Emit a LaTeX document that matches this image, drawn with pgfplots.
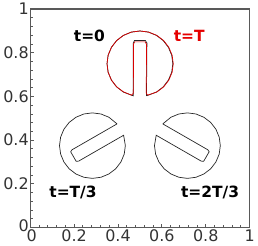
\documentclass[border=0pt]{standalone}
\usepackage{pgfplots}
\pgfplotsset{compat=1.18}
\usepackage{fontspec}
\setmainfont{DejaVu Sans}
\begin{document}
\begin{tikzpicture}
\begin{axis}[
  scale only axis, width=220pt, height=219pt,
  xmin=0, xmax=1, ymin=0, ymax=1,
  xtick={0,0.2,0.4,0.6,0.8,1}, ytick={0,0.2,0.4,0.6,0.8,1},
  xticklabels={\hspace{3pt}0,0.2,0.4,0.6,0.8,1}, yticklabels={\raisebox{4pt}{0},0.2,0.4,0.6,0.8,1},
  minor tick num=4,
  tick align=inside, xtick pos=left, ytick pos=left,
  major tick length=4pt, minor tick length=2.5pt,
  axis line style={draw=black!65, line width=1.3pt},
  every tick/.style={black!65, line width=0.8pt},
  tick label style={font=\fontsize{16}{16}\selectfont, text=black!80},
  xticklabel style={yshift=1pt},
  yticklabel style={xshift=2pt},
  clip=false,
]
% t=0 (black)
\addplot[black!85, line width=0.7pt] coordinates {
(0.53,0.603)(0.575,0.620)(0.6061,0.6439)(0.6299,0.675)(0.6449,0.7112)(0.65,0.75)(0.6449,0.7888)(0.6299,0.825)(0.6061,0.8561)(0.575,0.8799)(0.5388,0.8949)(0.5,0.9)(0.4612,0.8949)(0.425,0.8799)(0.3939,0.8561)(0.3701,0.825)(0.3551,0.7888)(0.35,0.75)(0.3551,0.7112)(0.3701,0.675)(0.3939,0.6439)(0.425,0.62)(0.47,0.603)(0.47,0.845)(0.475,0.856)(0.525,0.856)(0.532,0.845)(0.53,0.603)
};
% t=T (red)
\addplot[red!85!black, line width=0.7pt] coordinates {
(0.535,0.606)(0.578,0.621)(0.6081,0.6439)(0.6319,0.675)(0.6469,0.7112)(0.652,0.75)(0.6469,0.7888)(0.6319,0.825)(0.6081,0.8561)(0.577,0.8799)(0.5398,0.8949)(0.5,0.9)(0.4612,0.8949)(0.425,0.8799)(0.3939,0.8561)(0.3701,0.825)(0.3551,0.7888)(0.35,0.75)(0.3551,0.7112)(0.3701,0.675)(0.3939,0.6439)(0.425,0.621)(0.462,0.606)(0.47,0.615)(0.471,0.84)(0.476,0.850)(0.524,0.850)(0.530,0.84)(0.529,0.615)(0.535,0.606)
};
% t=T/3
\addplot[black!85, line width=0.7pt] coordinates {
(0.3958,0.4745)(0.3586,0.505)(0.3223,0.5199)(0.2834,0.525)(0.2446,0.5199)(0.2085,0.5049)(0.1774,0.4811)(0.1535,0.45)(0.1385,0.4138)(0.1335,0.375)(0.1386,0.3361)(0.1536,0.3)(0.1774,0.2689)(0.2085,0.245)(0.2447,0.23)(0.2835,0.225)(0.3224,0.2301)(0.3585,0.2451)(0.3896,0.2689)(0.4134,0.3)(0.4285,0.3361)(0.4336,0.375)(0.4258,0.4225)(0.2206,0.304)(0.2094,0.3033)(0.1844,0.3467)(0.1906,0.356)(0.3958,0.4745)
};
% t=2T/3
\addplot[black!85, line width=0.7pt] coordinates {
(0.6042,0.4745)(0.6414,0.505)(0.6777,0.5199)(0.7166,0.525)(0.7554,0.5199)(0.7915,0.5049)(0.8226,0.4811)(0.8465,0.45)(0.8615,0.4138)(0.8665,0.375)(0.8614,0.3361)(0.8464,0.3)(0.8226,0.2689)(0.7915,0.245)(0.7553,0.23)(0.7165,0.225)(0.6776,0.2301)(0.6415,0.2451)(0.6104,0.2689)(0.5866,0.3)(0.5715,0.3361)(0.5664,0.375)(0.5742,0.4225)(0.7794,0.304)(0.7906,0.3033)(0.8156,0.3467)(0.8094,0.356)(0.6042,0.4745)
};
\node[font=\fontsize{15.5}{15.5}\selectfont\bfseries] at (axis cs:0.27,0.877) {t=0};
\node[font=\fontsize{15.5}{15.5}\selectfont\bfseries, text=red!90!black] at (axis cs:0.725,0.877) {t=T};
\node[font=\fontsize{15.5}{15.5}\selectfont\bfseries] at (axis cs:0.195,0.16) {t=T/3};
\node[font=\fontsize{15.5}{15.5}\selectfont\bfseries] at (axis cs:0.82,0.16) {t=2T/3};
\end{axis}
\end{tikzpicture}
\end{document}
